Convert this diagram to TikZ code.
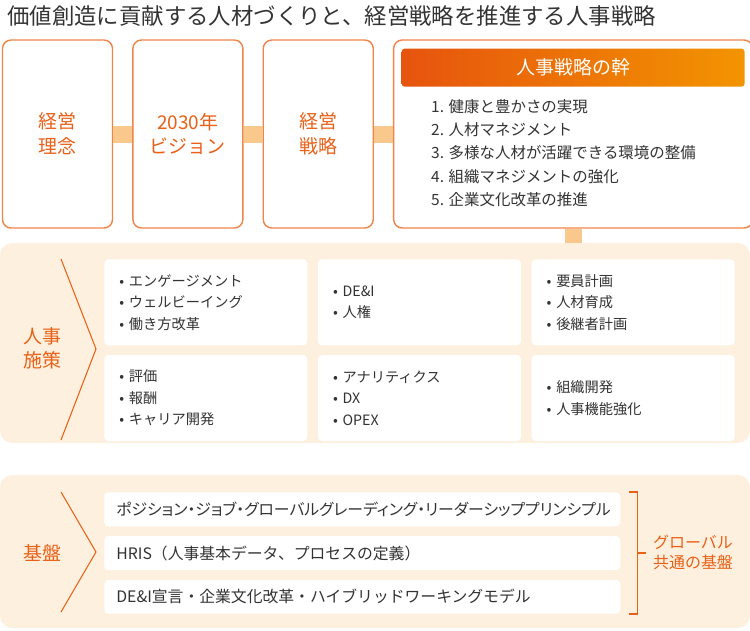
\documentclass[tikz,border=0pt]{standalone}
\usepackage{fontspec}
\setmainfont{Noto Sans CJK JP}
\newfontfamily\rowfont{Noto Sans CJK JP}[RawFeature=+palt]
\usepackage{xcolor}
\usetikzlibrary{positioning, calc}
\definecolor{hrorange}{RGB}{234, 96, 22}
\definecolor{hrline}{RGB}{241, 132, 72}
\definecolor{hrbar}{RGB}{249, 200, 140}
\definecolor{hrpanel}{RGB}{254, 240, 222}
\definecolor{hrtext}{RGB}{51, 51, 51}
\definecolor{hrgradL}{RGB}{230, 84, 14}
\definecolor{hrgradR}{RGB}{243, 148, 0}
\tikzstyle{topbox} = [rectangle, rounded corners=0.17cm, minimum width=2.2cm, minimum height=3.76cm, align=center, draw=hrline, line width=0.8pt, fill=white, text=hrorange, font=\fontsize{10.8}{14.2}\selectfont]
\tikzstyle{header} = [rectangle, rounded corners=0.06cm, minimum width=6.86cm, minimum height=0.76cm, left color=hrgradL, right color=hrgradR, text=white, font=\fontsize{10.8}{13}\selectfont]
\tikzstyle{panel} = [rectangle, rounded corners=0.24cm, minimum width=15cm, fill=hrpanel]
\tikzstyle{cell} = [rectangle, rounded corners=0.08cm, fill=white, text width=3.46cm, minimum height=1.72cm, inner xsep=0.3cm, align=left, text=hrtext, font=\fontsize{8.1}{12.2}\selectfont]
\tikzstyle{row} = [rectangle, rounded corners=0.08cm, fill=white, text width=9.84cm, minimum height=0.68cm, inner xsep=0.24cm, align=left, text=hrtext, font=\fontsize{9}{10}\selectfont]
\tikzstyle{sidelabel} = [text=hrorange, align=center, font=\fontsize{10.8}{13.7}\selectfont]
\tikzstyle{bar} = [draw=hrbar, line width=0.34cm]
\tikzstyle{chev} = [draw=hrorange, line width=0.6pt]
\tikzstyle{brk} = [draw=hrorange, line width=0.8pt]

\begin{document}
\begin{tikzpicture}[x=0.02cm, y=-0.02cm]
      \useasboundingbox (0,0) rectangle (750,630);
      \node[anchor=west, text=hrtext, font=\fontsize{12.75}{14}\selectfont] (title) at (1,16) {価値創造に貢献する人材づくりと、経営戦略を推進する人事戦略};

      % top row
      \node[topbox] (rinen) at (57.5,134) {経営\\理念};
      \node[topbox, right=0.38cm of rinen] (vision) {2030年\\ビジョン};
      \node[topbox, right=0.38cm of vision] (senryaku) {経営\\戦略};
      \node[topbox, right=0.38cm of senryaku, minimum width=7.18cm] (kan) {};
      \node[header, below=0.18cm of kan.north] (kanhead) {人事戦略の幹};
      \node[anchor=north west, align=left, text=hrtext, font=\fontsize{8.8}{13.3}\selectfont] (kanlist) at (425,93)
        {1. 健康と豊かさの実現\\2. 人材マネジメント\\3. 多様な人材が活躍できる環境の整備\\4. 組織マネジメントの強化\\5. 企業文化改革の推進};

      % panels
      \node[panel, minimum height=4cm] (sesaku) at (375,343) {};
      \node[panel, minimum height=3.06cm] (kiban) at (375,551.5) {};

      \draw[bar] (rinen) -- (vision);
      \draw[bar] (vision) -- (senryaku);
      \draw[bar] (senryaku) -- (kan);
      \draw[bar] (kan.south) -- (kan.south |- sesaku.north);

      % 人事施策
      \node[sidelabel] (sesakulabel) at (42,348) {人事\\施策};
      \draw[chev] (61,259) -- (96,349) -- (61,440);
      \node[cell, anchor=north west] (c11) at (104,259) {• エンゲージメント\\• ウェルビーイング\\• 働き方改革};
      \node[cell, right=0.2cm of c11] (c12) {• DE\&I\\• 人権};
      \node[cell, right=0.2cm of c12] (c13) {• 要員計画\\• 人材育成\\• 後継者計画};
      \node[cell, below=0.18cm of c11] (c21) {• 評価\\• 報酬\\• キャリア開発};
      \node[cell, right=0.2cm of c21] (c22) {• アナリティクス\\• DX\\• OPEX};
      \node[cell, right=0.2cm of c22] (c23) {• 組織開発\\• 人事機能強化};

      % 基盤
      \node[sidelabel] (kibanlabel) at (42,553) {基盤};
      \draw[chev] (61,492) -- (96,552) -- (61,612);
      \node[row, anchor=north west, font=\rowfont\fontsize{9}{10}\selectfont] (k1) at (104,492) {ポジション・ジョブ・グローバルグレーディング・リーダーシッププリンシプル};
      \node[row, below=0.18cm of k1] (k2) {HRIS（人事基本データ、プロセスの定義）};
      \node[row, below=0.18cm of k2] (k3) {DE\&I宣言・企業文化改革・ハイブリッドワーキングモデル};
      \draw[brk] ([xshift=0.16cm]k1.north east) -| ([xshift=0.34cm]k3.south east) -- ([xshift=0.16cm]k3.south east);
      \draw[brk] ([xshift=0.34cm]k2.east) -- ++(0.16cm,0);
      \node[sidelabel, font=\fontsize{9.1}{11.4}\selectfont] (globallabel) at (693,552) {グローバル\\共通の基盤};
    \end{tikzpicture}
\end{document}
